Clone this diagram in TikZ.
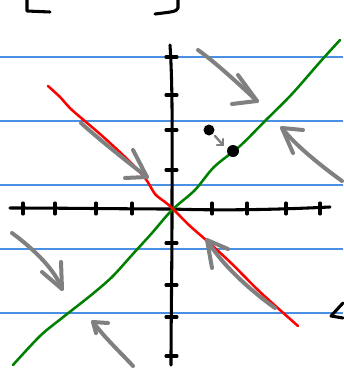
\documentclass[tikz,border=0pt]{standalone}
\usepackage{tikz}
\usepackage{xcolor}

\begin{document}
\begin{tikzpicture}[x=0.75pt,y=0.75pt,yscale=-1,xscale=1,
  ruling/.style={color={rgb, 255:red, 74; green, 144; blue, 226 }, line width=1.1},
  axis/.style={color=black, line width=2.3, line cap=round, line join=round},
  flow/.style={color={rgb, 255:red, 128; green, 128; blue, 128 }, line width=3, line cap=round, line join=round},
  stable/.style={color={rgb, 255:red, 0; green, 128; blue, 0 }, line width=1.9, line cap=round},
  unstable/.style={color={rgb, 255:red, 255; green, 0; blue, 0 }, line width=1.9, line cap=round}]
\useasboundingbox (0,0) rectangle (343,375);

%Ruled paper lines
\foreach \y in {57,121,185,249,313}
  \draw [ruling] (0,\y) -- (343,\y) ;

%Bracket pieces at top
\draw [axis]   (27,0) -- (27,11) -- (50,12) ;
\draw [axis]   (178,0) -- (178,8) .. controls (177,12) and (170,12) .. (155,14) ;

%Straight Lines: axes
\draw [axis]   (10,208) .. controls (60,208) and (130,209) .. (172,209) .. controls (230,211) and (290,209) .. (330,207) ;
\draw [axis]   (170,45) .. controls (173,90) and (172,150) .. (172,209) .. controls (172,270) and (171,320) .. (171,365) ;
\foreach \x in {23,55,96,132,212,247,286,320}
  \draw [axis] (\x,203) -- (\x,214) ;
\foreach \y in {57,95,130,170,243,285,317,356}
  \draw [axis] (166,\y) -- (177,\y) ;

%Curve Lines: eigen lines
\draw [stable]   plot [smooth] coordinates {(13,365) (40,336) (62,318) (90,296) (112,277) (132,255) (152,233) (172,210) (195,190) (214,167) (240,146) (266,120) (292,94) (320,62) (340,40)} ;
\draw [unstable] plot [smooth] coordinates {(48,86) (60,97) (72,110) (100,134) (125,157) (145,178) (155,194) (165,202) (172,208) (190,226) (206,240) (230,262) (258,290) (280,310) (298,326)} ;

%Gray flow arrows
\draw [flow]   (81,123) .. controls (100,140) and (125,160) .. (147,177) ;
\draw [flow]   (133,150) -- (147,177) -- (125,178) ;
\draw [flow]   (198,50) .. controls (215,62) and (240,85) .. (257,101) ;
\draw [flow]   (238,75) -- (257,101) -- (232,104) ;
\draw [flow]   (342,181) .. controls (320,165) and (295,145) .. (282,128) ;
\draw [flow]   (303,130) -- (282,128) -- (293,153) ;
\draw [flow]   (12,233) .. controls (35,250) and (55,270) .. (62,289) ;
\draw [flow]   (42,272) -- (62,289) -- (61,262) ;
\draw [flow]   (133,366) .. controls (120,352) and (105,338) .. (93,322) ;
\draw [flow]   (108,323) -- (93,322) -- (96,333) ;
\draw [flow]   (275,308) .. controls (250,290) and (222,265) .. (207,240) ;
\draw [flow]   (228,249) -- (207,240) -- (212,268) ;

%Points and small arrow
\fill (209,130) circle [radius=5.5] ;
\fill (233,151) circle [radius=6] ;
\draw [flow, line width=1.8] (215,136) -- (223,145) ;
\draw [flow, line width=1.8] (217,145) -- (223,145) -- (223,139) ;

%Partial arrow at right edge
\draw [axis]   (343,303) -- (331,316) -- (343,318) ;

\end{tikzpicture}
\end{document}
